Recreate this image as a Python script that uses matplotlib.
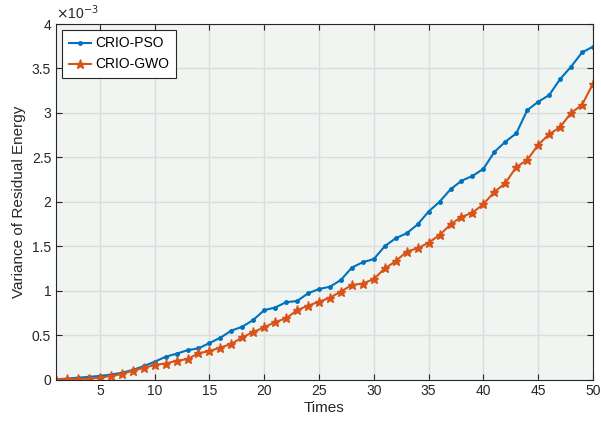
import numpy as np
import matplotlib.pyplot as plt

plt.rcParams['font.family'] = ['Liberation Sans', 'DejaVu Sans']

# dữ liệu (đơn vị 1e-3)
times = np.arange(1, 51)
pso = [0.0, 0.01, 0.02, 0.03, 0.04, 0.055, 0.075, 0.107, 0.15, 0.2,
       0.256, 0.29, 0.33, 0.35, 0.41, 0.47, 0.55, 0.594, 0.67, 0.78,
       0.81, 0.87, 0.883, 0.97, 1.018, 1.044, 1.12, 1.26, 1.32, 1.355,
       1.50, 1.59, 1.645, 1.745, 1.89, 2.0, 2.14, 2.236, 2.29, 2.37,
       2.56, 2.675, 2.77, 3.03, 3.125, 3.20, 3.38, 3.52, 3.68, 3.745]
gwo = [0.0, 0.003, 0.005, 0.01, 0.02, 0.04, 0.06, 0.1, 0.13, 0.163,
       0.18, 0.21, 0.23, 0.295, 0.32, 0.36, 0.40, 0.475, 0.534, 0.587,
       0.647, 0.688, 0.78, 0.83, 0.875, 0.92, 0.99, 1.063, 1.08, 1.13,
       1.25, 1.33, 1.44, 1.476, 1.54, 1.625, 1.745, 1.83, 1.876, 1.974,
       2.11, 2.21, 2.39, 2.47, 2.64, 2.76, 2.84, 3.0, 3.09, 3.33]
xticks = [5, 10, 15, 20, 25, 30, 35, 40, 45, 50]
yticks = [0, 0.5, 1, 1.5, 2, 2.5, 3, 3.5, 4]
ylabels = ['0', '0.5', '1', '1.5', '2', '2.5', '3', '3.5', '4']

fig = plt.figure(figsize=(6.01, 4.23), dpi=100)
ax = fig.add_axes([56/601, (423-379.5)/423, (593-56)/601, (379.5-24)/423])
ax.set_facecolor('#f0f5f1')

ax.plot(times, pso, color='#0072BD', marker='.', markersize=5, linewidth=1.5, label='CRIO-PSO')
ax.plot(times, gwo, color='#D95319', marker='*', markersize=6.5, linewidth=1.5, label='CRIO-GWO')

ax.set_xlim(1, 50)
ax.set_ylim(0, 4)
ax.set_xticks(xticks)
ax.set_yticks(yticks)
ax.set_yticklabels(ylabels)
ax.grid(True, color='#dcdcdc', linewidth=1)
ax.set_axisbelow(True)
ax.tick_params(direction='in', top=True, right=True, labelsize=10, colors='#262626', length=4)
for s in ax.spines.values():
    s.set_color('#262626')
    s.set_linewidth(0.8)

ax.set_xlabel('Times', fontsize=11, color='#262626', labelpad=2)
ax.set_ylabel('Variance of Residual Energy', fontsize=11, color='#262626')
ax.text(0.0, 1.005, r'$\times$10$^{-3}$', transform=ax.transAxes, fontsize=10,
        color='#262626', va='bottom', ha='left')

leg = ax.legend(loc='upper left', fontsize=10, fancybox=False, framealpha=1,
                edgecolor='#262626', handlelength=1.6, handletextpad=0.3,
                borderaxespad=0.4, borderpad=0.5)
leg.get_frame().set_linewidth(0.8)

fig.savefig('out.png', dpi=100)
